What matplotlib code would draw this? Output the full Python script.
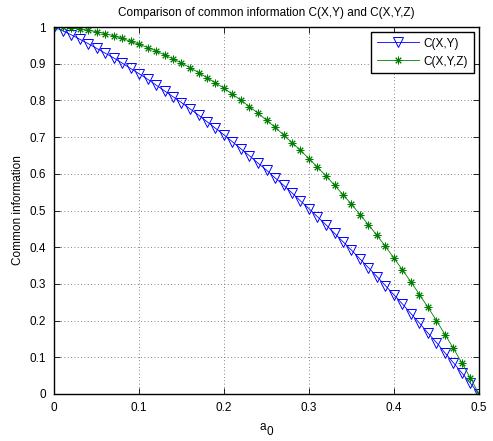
import matplotlib
matplotlib.use("Agg")
import matplotlib.pyplot as plt

plt.rcParams['font.family'] = ['Liberation Sans', 'DejaVu Sans']
plt.rcParams['mathtext.default'] = 'regular'

a0 = [0.00, 0.01, 0.02, 0.03, 0.04, 0.05, 0.06, 0.07, 0.08, 0.09,
      0.10, 0.11, 0.12, 0.13, 0.14, 0.15, 0.16, 0.17, 0.18, 0.19,
      0.20, 0.21, 0.22, 0.23, 0.24, 0.25, 0.26, 0.27, 0.28, 0.29,
      0.30, 0.31, 0.32, 0.33, 0.34, 0.35, 0.36, 0.37, 0.38, 0.39,
      0.40, 0.41, 0.42, 0.43, 0.44, 0.45, 0.46, 0.47, 0.48, 0.49, 0.50]

c_xy = [1.000, 0.990, 0.979, 0.967, 0.955, 0.942, 0.929, 0.916, 0.902, 0.887,
        0.873, 0.858, 0.842, 0.826, 0.810, 0.794, 0.777, 0.760, 0.742, 0.724,
        0.706, 0.687, 0.668, 0.649, 0.629, 0.610, 0.589, 0.569, 0.548, 0.526,
        0.505, 0.483, 0.461, 0.438, 0.415, 0.392, 0.368, 0.344, 0.320, 0.295,
        0.270, 0.245, 0.219, 0.193, 0.166, 0.140, 0.112, 0.085, 0.057, 0.029, 0.000]

c_xyz = [1.000, 0.999, 0.998, 0.995, 0.991, 0.987, 0.982, 0.976, 0.969, 0.961,
         0.953, 0.944, 0.935, 0.924, 0.913, 0.902, 0.889, 0.876, 0.862, 0.848,
         0.833, 0.817, 0.800, 0.783, 0.765, 0.746, 0.727, 0.706, 0.685, 0.664,
         0.641, 0.618, 0.594, 0.569, 0.543, 0.517, 0.489, 0.461, 0.432, 0.402,
         0.370, 0.338, 0.305, 0.271, 0.236, 0.200, 0.162, 0.124, 0.084, 0.043, 0.000]

labels = ['C(X,Y)', 'C(X,Y,Z)']
xticks = [0, 0.1, 0.2, 0.3, 0.4, 0.5]
xticklabels = ['0', '0.1', '0.2', '0.3', '0.4', '0.5']
yticks = [0, 0.1, 0.2, 0.3, 0.4, 0.5, 0.6, 0.7, 0.8, 0.9, 1.0]
yticklabels = ['0', '0.1', '0.2', '0.3', '0.4', '0.5', '0.6', '0.7', '0.8', '0.9', '1']

W, Hh = 493, 441
fig = plt.figure(figsize=(W / 100, Hh / 100), dpi=100)
ax = fig.add_axes([54 / W, 1 - 394 / Hh, (479 - 54) / W, (394 - 27) / Hh])

ax.plot(a0, c_xy, color=(0, 0, 1), marker='v', markersize=6.5, markerfacecolor='none',
        markeredgewidth=0.7, linewidth=0.6, label=labels[0])
ax.plot(a0, c_xyz, color=(0, 0.5, 0), marker=(8, 2, 0), markersize=5.5,
        markeredgewidth=0.7, linewidth=0.6, label=labels[1])

ax.set_xlim(0, 0.5)
ax.set_ylim(0, 1)
ax.set_xticks(xticks)
ax.set_xticklabels(xticklabels)
ax.set_yticks(yticks)
ax.set_yticklabels(yticklabels)
ax.tick_params(direction='in', top=True, right=True, length=4, width=0.6,
               labelsize=8.5, colors='black')
ax.tick_params(axis='x', pad=6)
ax.tick_params(axis='y', pad=6)
ax.grid(True, color='0.35', linestyle=(0, (1, 3)), linewidth=0.6)
for s in ax.spines.values():
    s.set_linewidth(1.0)
    s.set_color('black')

ax.set_title('Comparison of common information C(X,Y) and C(X,Y,Z)', fontsize=8.5, pad=8)
xl = ax.set_xlabel('a', fontsize=8.5, labelpad=4.5, x=(262.5 - 54) / 425)
ax.annotate('0', xy=(1, 0), xycoords=xl, xytext=(0.3, 4.4), textcoords='offset points',
            ha='left', va='top', fontsize=8.5)
ax.set_ylabel('Common information', fontsize=8.5, labelpad=4)

leg = ax.legend(loc='upper right', fontsize=8.5, numpoints=1, handlelength=3.6,
                handletextpad=0.4, borderaxespad=0.45, borderpad=0.45, labelspacing=0.5,
                fancybox=False, framealpha=1, edgecolor='black')
leg.get_frame().set_linewidth(1.0)

fig.savefig('out.png', dpi=100)
